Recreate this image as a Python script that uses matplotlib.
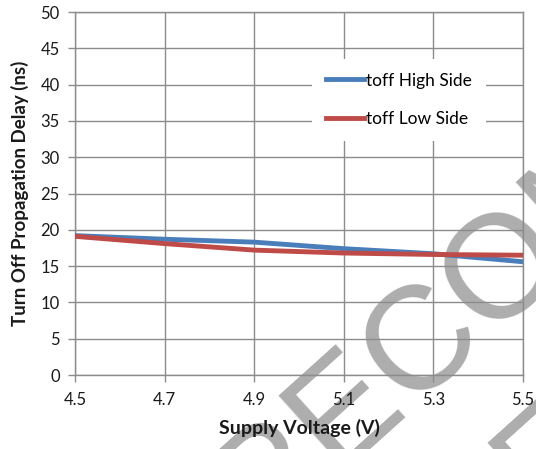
import numpy as np
import matplotlib.pyplot as plt

# data
voltage = [4.5, 4.7, 4.9, 5.1, 5.3, 5.5]
toff_high = [19.2, 18.7, 18.3, 17.4, 16.7, 15.6]
toff_low = [19.1, 18.1, 17.2, 16.8, 16.6, 16.5]
x_ticks = [4.5, 4.7, 4.9, 5.1, 5.3, 5.5]
y_ticks = list(range(0, 51, 5))

W, H = 536, 449
fig = plt.figure(figsize=(W / 100, H / 100), dpi=100)
fig.patch.set_facecolor('white')
ax = fig.add_axes([75 / W, 1 - 375 / H, 448 / W, 363 / H])
ax.set_facecolor('none')

grid_c = '#8c8c8c'
ax.plot(voltage, toff_high, color='#4a7ebb', lw=3.5, label='toff High Side', zorder=3)
ax.plot(voltage, toff_low, color='#be4b48', lw=3.5, label='toff Low Side', zorder=3)

ax.set_xlim(4.5, 5.5)
ax.set_ylim(0, 50)
ax.set_xticks(x_ticks)
ax.set_yticks(y_ticks)
ax.set_xticklabels(['%.1f' % v for v in x_ticks])
ax.grid(True, color=grid_c, lw=1.0)
ax.set_axisbelow(True)
for s in ax.spines.values():
    s.set_color(grid_c)
    s.set_linewidth(1.0)
ax.tick_params(axis='both', color=grid_c, length=5, width=1.0, labelsize=12,
               labelcolor='#1a1a1a')
ax.tick_params(axis='y', pad=6)
ax.tick_params(axis='x', pad=7)
for lab in ax.get_xticklabels() + ax.get_yticklabels():
    lab.set_fontfamily('Lato')

ax.set_xlabel('Supply Voltage (V)', fontsize=14, fontweight='bold', family='Lato',
              color='#1a1a1a', labelpad=8)
ax.set_ylabel('Turn Off Propagation Delay (ns)', fontsize=13.5, fontweight='bold',
              family='Lato', color='#1a1a1a', labelpad=8)

leg = ax.legend(loc='upper left', bbox_to_anchor=((303 - 75) / 448, (375 - 50) / 363),
                frameon=True, facecolor='white', edgecolor='none', framealpha=1,
                fancybox=False, handlelength=2.2, handletextpad=0.15,
                labelspacing=1.3, borderpad=0.8, prop={'family': 'Lato', 'size': 12.5})
leg.set_zorder(5)

# watermark, two rotated lines
ang = 42
for txt, start in [('NOT RECOMMENDED', (-1, 783)), ('FOR NEW DESIGNS', (206, 832))]:
    fig.text(start[0] / W, 1 - start[1] / H, txt, rotation=ang, rotation_mode='anchor',
             ha='left', va='baseline', fontsize=106, family='Liberation Sans',
             color='#8a8a8a', alpha=0.7, zorder=-1)

fig.savefig('out.png', dpi=100)
